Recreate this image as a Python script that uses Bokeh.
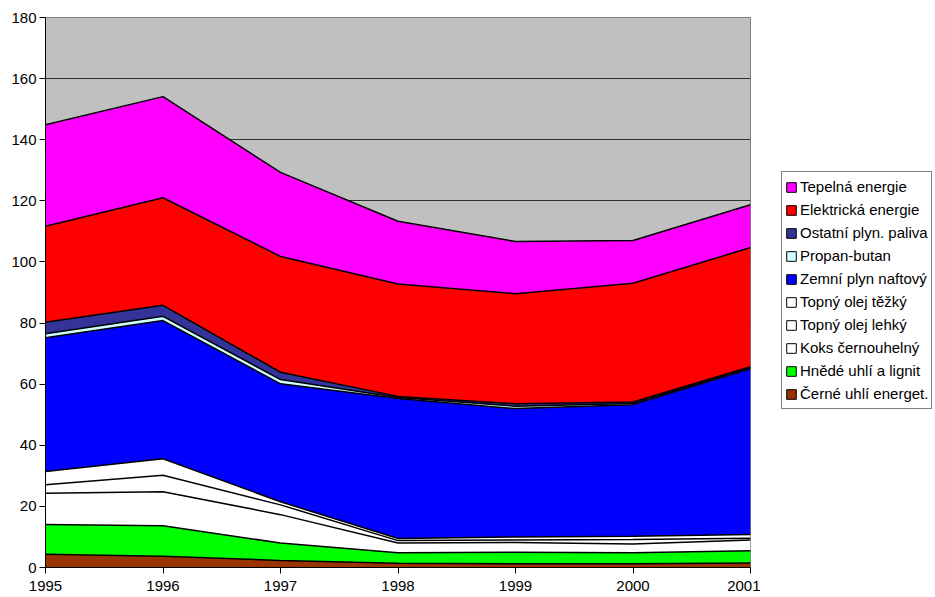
from bokeh.plotting import figure
from bokeh.layouts import row
from bokeh.models import (ColumnDataSource, Range1d, FixedTicker, Legend, LegendItem)
from bokeh.transform import stack
from bokeh.embed import file_html
from bokeh.resources import INLINE

years = [1995, 1996, 1997, 1998, 1999, 2000, 2001]

cerne_uhli = [4.3, 3.7, 2.3, 1.4, 1.2, 1.2, 1.5]
hnede_uhli = [9.8, 10.0, 5.7, 3.4, 3.8, 3.6, 4.0]
koks = [10.2, 11.1, 9.3, 3.2, 3.2, 2.9, 3.5]
olej_lehky = [2.8, 5.4, 3.2, 0.8, 0.8, 1.5, 0.6]
olej_tezky = [4.3, 5.4, 1.0, 0.7, 1.0, 1.0, 1.2]
zemni_plyn = [43.8, 45.2, 38.6, 45.8, 42.0, 43.1, 54.2]
propan_butan = [1.3, 1.4, 1.4, 0.3, 0.8, 0.4, 0.3]
ostatni_plyn = [3.8, 3.6, 2.4, 0.4, 0.8, 0.5, 0.4]
elektricka = [31.4, 35.2, 37.9, 36.8, 36.0, 38.8, 39.0]
tepelna = [33.2, 33.1, 27.5, 20.5, 17.1, 14.0, 14.0]

series_keys = ["cerne", "hnede", "koks", "lehky", "tezky", "zemni", "propan",
               "ostatni", "elektricka", "tepelna"]
series_labels = ["Černé uhlí energet.", "Hnědé uhlí a lignit", "Koks černouhelný",
                 "Topný olej lehký", "Topný olej těžký", "Zemní plyn naftový",
                 "Propan-butan", "Ostatní plyn. paliva", "Elektrická energie",
                 "Tepelná energie"]
series_colors = ["#993300", "#00FF00", "#FFFFFF", "#FFFFFF", "#FFFFFF", "#0000FF",
                 "#CCFFFF", "#333399", "#FF0000", "#FF00FF"]
series_values = [cerne_uhli, hnede_uhli, koks, olej_lehky, olej_tezky, zemni_plyn,
                 propan_butan, ostatni_plyn, elektricka, tepelna]

y_ticks = list(range(0, 181, 20))

data = {"year": years}
for k, v in zip(series_keys, series_values):
    data[k] = v
src = ColumnDataSource(data)

FONT = "Liberation Sans"

p = figure(width=760, height=597, output_backend="svg", toolbar_location=None,
           x_range=Range1d(1995, 2001), y_range=Range1d(0, 180),
           min_border_left=45, min_border_right=10, min_border_top=17,
           min_border_bottom=30)
p.background_fill_color = "#C0C0C0"
p.border_fill_color = "white"
p.outline_line_color = "#808080"

p.varea_stack(stackers=series_keys, x="year", color=series_colors, source=src)
for i in range(len(series_keys)):
    p.line(x="year", y=stack(*series_keys[:i + 1]), source=src, color="black",
           line_width=1.5)

p.xgrid.visible = False
p.ygrid.ticker = FixedTicker(ticks=y_ticks)
p.ygrid.grid_line_color = "#303030"
p.ygrid.grid_line_width = 1

p.yaxis.ticker = FixedTicker(ticks=y_ticks)
p.xaxis.ticker = FixedTicker(ticks=years)
for ax in (p.xaxis[0], p.yaxis[0]):
    ax.major_tick_in = 0
    ax.major_tick_out = 6
    ax.minor_tick_line_color = None
    ax.axis_line_color = "black"
    ax.major_tick_line_color = "black"
    ax.major_label_text_font = FONT
    ax.major_label_text_font_size = "15px"
    ax.major_label_text_color = "black"
p.yaxis.major_label_standoff = 3
p.xaxis.major_label_standoff = 7

# separate legend panel to the right of the chart
lp = figure(width=173, height=597, output_backend="svg", toolbar_location=None,
            x_range=Range1d(0, 1), y_range=Range1d(0, 1),
            min_border_left=0, min_border_right=0, min_border_top=0,
            min_border_bottom=0)
lp.axis.visible = False
lp.grid.visible = False
lp.outline_line_color = None
lp.background_fill_color = "white"

nan = float("nan")
items = []
for lab, col in zip(series_labels, series_colors):
    r = lp.quad(left=[nan], right=[nan], top=[nan], bottom=[nan], fill_color=col,
                line_color="black", line_width=1)
    items.append(LegendItem(label=lab, renderers=[r]))
items = items[::-1]

legend = Legend(items=items, location=(21, 158), orientation="vertical",
                glyph_width=12, glyph_height=12, label_height=23, spacing=0,
                padding=3, margin=0, label_standoff=3,
                label_text_font=FONT, label_text_font_size="15px",
                label_text_color="black",
                border_line_color="black", border_line_width=1,
                background_fill_color="white", background_fill_alpha=1.0)
lp.add_layout(legend, "center")

layout = row(p, lp)
open("out.html", "w").write(file_html(layout, INLINE))
